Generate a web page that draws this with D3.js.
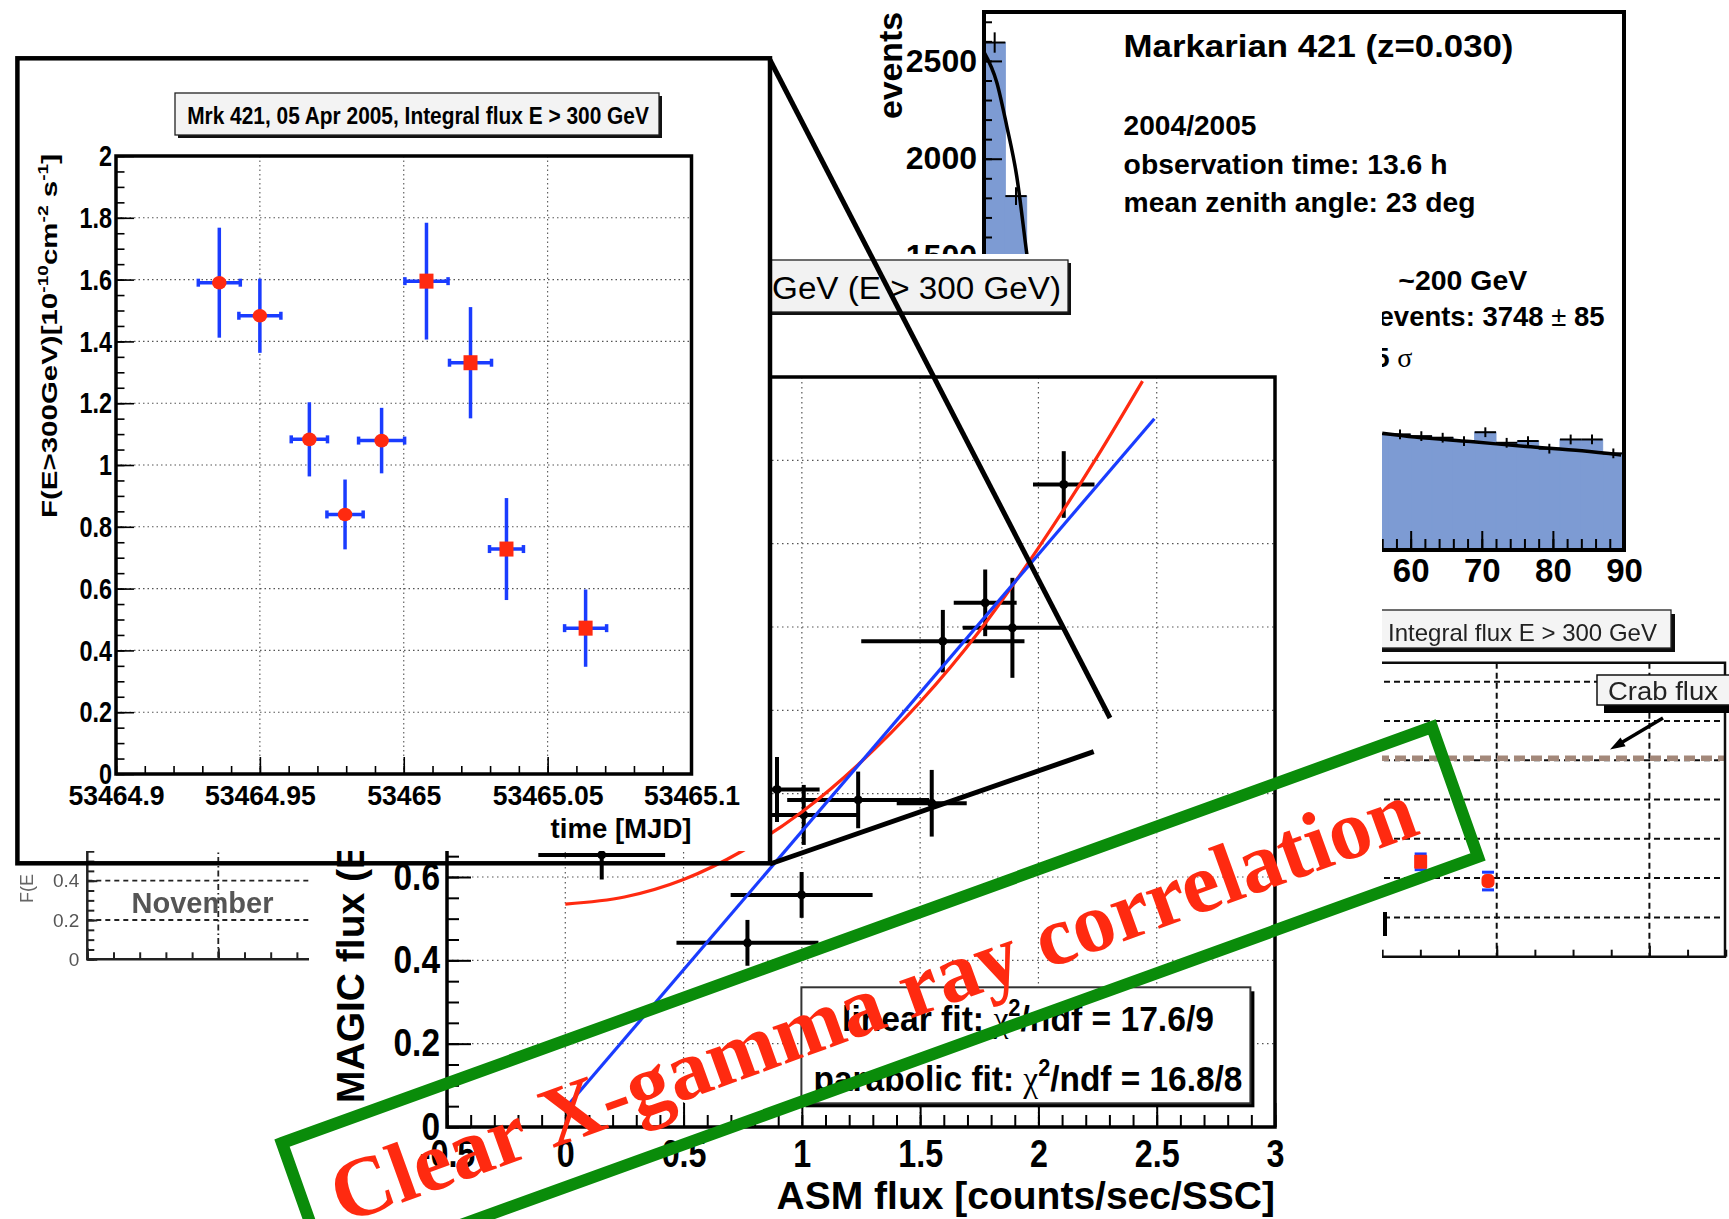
<!DOCTYPE html>
<html>
<head>
<meta charset="utf-8">
<title>Mrk 421 – MAGIC / ASM flux correlation</title>
<script src="https://cdn.jsdelivr.net/npm/d3@7/dist/d3.min.js"></script>
<style>
  html, body { margin: 0; padding: 0; background: #fff; }
  svg { display: block; }
</style>
</head>
<body>
<svg id="chart" width="1729" height="1219"></svg>
<script>
// ---------- Light curve, 05 Apr 2005 (MJD vs integral flux E > 300 GeV, 1e-10 cm^-2 s^-1)
const lcTime    = [53464.9359, 53464.9500, 53464.9672, 53464.9796, 53464.9923, 53465.0079, 53465.0232, 53465.0357, 53465.0632];
const lcTimeErr = [0.0073, 0.0073, 0.0063, 0.0063, 0.0080, 0.0075, 0.0073, 0.0059, 0.0073];
const lcFlux    = [1.590, 1.483, 1.083, 0.840, 1.079, 1.595, 1.331, 0.728, 0.472];
const lcFluxErr = [0.178, 0.120, 0.120, 0.113, 0.106, 0.189, 0.180, 0.165, 0.125];
const lcMarker  = ["circle", "circle", "circle", "circle", "circle", "square", "square", "square", "square"];
const lcXTicks  = [53464.9, 53464.95, 53465, 53465.05, 53465.1];
const lcXLabels = ["53464.9", "53464.95", "53465", "53465.05", "53465.1"];
const lcYTicks  = [0, 0.2, 0.4, 0.6, 0.8, 1, 1.2, 1.4, 1.6, 1.8, 2];
const lcYLabels = ["0", "0.2", "0.4", "0.6", "0.8", "1", "1.2", "1.4", "1.6", "1.8", "2"];

// ---------- MAGIC flux vs ASM flux
const asmFlux   = [2.107, 1.775, 1.890, 1.596, 1.549, 1.238, 0.895, 1.008, 0.154, 0.999, 0.770];
const asmErr    = [0.130, 0.133, 0.210, 0.345, 0.148, 0.300, 0.180, 0.235, 0.268, 0.300, 0.300];
const magicFlux = [1.542, 1.258, 1.198, 1.166, 0.777, 0.785, 0.810, 0.749, 0.653, 0.557, 0.442];
const magicErr  = [0.080, 0.080, 0.120, 0.075, 0.080, 0.068, 0.078, 0.072, 0.059, 0.055, 0.055];
const linearFit    = [[0.0, 0.045], [2.49, 1.70]];
const parabolicFit = [[0, 0.535], [0.25, 0.552], [0.5, 0.594], [0.75, 0.663], [1.0, 0.756], [1.25, 0.876],
                      [1.5, 1.02], [1.75, 1.19], [2.0, 1.39], [2.25, 1.61], [2.44, 1.79]];
const fitNames  = ["linear fit: ", "parabolic fit: "];
const fitChi2   = ["17.6/9", "16.8/8"];
const corrXTicks  = [-0.5, 0, 0.5, 1, 1.5, 2, 2.5, 3];
const corrXLabels = ["-0.5", "0", "0.5", "1", "1.5", "2", "2.5", "3"];
// upper labels of this axis sit beneath the light-curve inset
const corrYTicks  = [0, 0.2, 0.4, 0.6, 0.8, 1, 1.2, 1.4, 1.6, 1.8];
const corrYLabels = ["0", "0.2", "0.4", "0.6", "", "", "", "", "", ""];

// ---------- ALPHA distribution, Markarian 421 2004/2005
const alphaBinStart = [0, 3, 54, 57, 60, 63, 66, 69, 72, 75, 78, 81, 84, 87];
const alphaCounts   = [2594, 1809, 592, 591, 582, 574, 557, 602, 548, 557, 518, 565, 565, 494];
const alphaErr      = [52, 45, 25, 25, 25, 25, 25, 25, 25, 25, 25, 25, 25, 25];
const alphaFitPeak  = [[0, 2545], [1.8, 2390], [3.2, 2167], [4.6, 1911], [6.0, 1519], [6.8, 1300]];
const alphaFitTail  = [[56, 597], [60.6, 577], [68.4, 554], [76.3, 529], [84.1, 507], [89.6, 486]];
const alphaXTicks   = [0, 10, 20, 30, 40, 50, 60, 70, 80, 90];
const alphaXLabels  = ["0", "10", "20", "30", "40", "50", "60", "70", "80", "90"];
const alphaYTicks   = [0, 500, 1000, 1500, 2000, 2500];
const alphaYLabels  = ["0", "500", "1000", "1500", "2000", "2500"];

// ---------- Integral flux panel with Crab reference
const crabX      = [0.502, 0.943];
const crabY      = [0.483, 0.385];
const crabYErr   = [0.040, 0.045];
const crabMarker = ["square", "circle"];
const crabLevel  = 1.01;
const crabGridY  = [0.2, 0.4, 0.6, 0.8, 1.0, 1.2, 1.4];
const crabGridX  = [1, 2];

// ---------- November panel
const novYTicks  = [0, 0.2, 0.4];
const novYLabels = ["0", "0.2", "0.4"];

const FONT  = "'Liberation Sans', Arial, Helvetica, sans-serif";
const SERIF = "'Liberation Serif', 'Times New Roman', serif";
const BLUE = "#1a3cff", RED = "#ff2a10";

const svg = d3.select("#chart");
svg.append("rect").attr("width", 1729).attr("height", 1219).attr("fill", "#fff");
svg.append("defs").append("filter").attr("id", "soft")
  .attr("x", "-5%").attr("y", "-5%").attr("width", "110%").attr("height", "110%")
  .append("feGaussianBlur").attr("stdDeviation", 0.6);

// text with optional rotation, superscripts and a target length
function label(parent, o) {
  const g = parent.append("g").attr("transform", `translate(${o.x},${o.y}) rotate(${o.rot || 0})`);
  const inner = g.append("g");
  const t = inner.append("text")
    .attr("text-anchor", o.anchor || "start")
    .attr("font-family", o.family || FONT)
    .attr("font-size", o.size)
    .attr("font-weight", o.weight || "normal")
    .attr("fill", o.fill || "#000");
  const parts = o.parts || [{ t: o.text }];
  let shift = 0;
  parts.forEach(p => {
    const target = p.sup ? -o.size * 0.42 : 0;
    const ts = t.append("tspan").text(p.t).attr("dy", target - shift);
    shift = target;
    if (p.sup) ts.attr("font-size", o.size * 0.65);
    if (p.family) ts.attr("font-family", p.family);
    if (p.weight) ts.attr("font-weight", p.weight);
  });
  if (o.width) {
    const w = t.node().getComputedTextLength();
    if (w > 0) inner.attr("transform", `scale(${o.width / w},1)`);
  }
  return t;
}

// ROOT-style axis: inward major/minor ticks, labels outside
function rootAxis(parent, scale, orient, pos, major, labels, minor, opt) {
  const make = orient === "bottom" ? d3.axisBottom : d3.axisLeft;
  const tr = orient === "bottom" ? `translate(0,${pos})` : `translate(${pos},0)`;
  const gMin = parent.append("g").attr("transform", tr)
    .call(make(scale).tickValues(minor).tickSizeInner(-opt.minorLen).tickSizeOuter(0).tickFormat(() => ""));
  gMin.select(".domain").remove();
  gMin.selectAll("text").remove();
  gMin.selectAll("line").attr("stroke-width", opt.tickWidth).attr("stroke", opt.color || "#000");
  const gMaj = parent.append("g").attr("transform", tr)
    .call(make(scale).tickValues(major).tickSizeInner(-opt.majorLen).tickSizeOuter(0)
      .tickPadding(opt.pad).tickFormat((d, i) => labels[i]));
  gMaj.select(".domain").remove();
  gMaj.selectAll("text").filter(function () { return this.textContent === ""; }).remove();
  gMaj.selectAll("line").attr("stroke-width", opt.tickWidth).attr("stroke", opt.color || "#000");
  gMaj.attr("font-family", FONT).attr("font-size", opt.size).attr("font-weight", opt.weight || "bold");
  gMaj.selectAll("text").attr("fill", opt.fill || "#000");
  if (opt.squeeze && opt.squeeze !== 1) {
    gMaj.selectAll("text").each(function () {
      const w = this.getComputedTextLength();
      d3.select(this).attr("textLength", w * opt.squeeze).attr("lengthAdjust", "spacingAndGlyphs");
    });
  }
  return gMaj;
}

function gridLines(parent, xVals, yVals, xs, ys, style) {
  const g = parent.append("g").attr("stroke", style.color).attr("stroke-width", style.width)
    .attr("stroke-dasharray", style.dash).attr("fill", "none");
  g.selectAll(".gv").data(xVals).join("line")
    .attr("x1", d => xs(d)).attr("x2", d => xs(d)).attr("y1", style.y0).attr("y2", style.y1);
  g.selectAll(".gh").data(yVals).join("line")
    .attr("x1", style.x0).attr("x2", style.x1).attr("y1", d => ys(d)).attr("y2", d => ys(d));
  return g;
}

function titleBox(parent, x, y, w, h, sh, fill) {
  parent.append("rect").attr("x", x + sh).attr("y", y + sh).attr("width", w).attr("height", h).attr("fill", "#111");
  parent.append("rect").attr("x", x).attr("y", y).attr("width", w).attr("height", h)
    .attr("fill", fill).attr("stroke", "#222").attr("stroke-width", 1.3);
}

// ================= ALPHA histogram =================
const hist = svg.append("g");
const hx = d3.scaleLinear().domain([0, 90]).range([984, 1624]);
const hy = d3.scaleLinear().domain([0, 2750]).range([550, 12]);
const bins = alphaBinStart.map((a, i) => ({ a, c: alphaCounts[i], e: alphaErr[i] }));
hist.selectAll(".bin").data(bins).join("rect")
  .attr("x", d => hx(d.a)).attr("width", d => hx(d.a + 3) - hx(d.a))
  .attr("y", d => hy(d.c)).attr("height", d => hy(0) - hy(d.c))
  .attr("fill", "#7d9bd3").attr("stroke", "#7d9bd3").attr("stroke-width", 1);
const crosses = hist.append("g").attr("stroke", "#000").attr("stroke-width", 2);
crosses.selectAll(".h").data(bins).join("line")
  .attr("x1", d => hx(d.a)).attr("x2", d => hx(d.a + 3)).attr("y1", d => hy(d.c)).attr("y2", d => hy(d.c));
crosses.selectAll(".v").data(bins).join("line")
  .attr("x1", d => hx(d.a + 1.5)).attr("x2", d => hx(d.a + 1.5))
  .attr("y1", d => hy(d.c + d.e)).attr("y2", d => hy(d.c - d.e));
const hLine = d3.line().x(d => hx(d[0])).y(d => hy(d[1])).curve(d3.curveMonotoneX);
hist.append("path").attr("d", hLine(alphaFitPeak)).attr("fill", "none").attr("stroke", "#000").attr("stroke-width", 3.5);
hist.append("path").attr("d", hLine(alphaFitTail)).attr("fill", "none").attr("stroke", "#000").attr("stroke-width", 3.5);
rootAxis(hist, hy, "left", 984, alphaYTicks, alphaYLabels, d3.range(0, 2701, 100),
  { majorLen: 18, minorLen: 8, tickWidth: 2, pad: 7, size: 32 });
rootAxis(hist, hx, "bottom", 550, alphaXTicks, alphaXLabels, d3.range(0, 91, 2),
  { majorLen: 19, minorLen: 11, tickWidth: 2, pad: 9, size: 33 });
hist.append("path").attr("d", "M984,12 H1624 V550 H984 Z").attr("fill", "none").attr("stroke", "#000").attr("stroke-width", 4);
label(hist, { x: 902, y: 12, rot: -90, anchor: "end", size: 33, weight: "bold", text: "events", width: 107 });
label(hist, { x: 1123.6, y: 57.3, size: 31, weight: "bold", text: "Markarian 421 (z=0.030)", width: 390 });
label(hist, { x: 1123.6, y: 134.5, size: 28, weight: "bold", text: "2004/2005", width: 133 });
label(hist, { x: 1123.6, y: 174, size: 28, weight: "bold", text: "observation time: 13.6 h", width: 324 });
label(hist, { x: 1123.6, y: 212, size: 28, weight: "bold", text: "mean zenith angle: 23 deg", width: 352 });
label(hist, { x: 1398.3, y: 289.5, size: 28, weight: "bold", text: "~200 GeV", width: 129 });
label(hist, { x: 1604.5, y: 326, anchor: "end", size: 28, weight: "bold",
  parts: [{ t: "events: 3748 " }, { t: "±", weight: "normal" }, { t: " 85" }], width: 226 });
label(hist, { x: 1374, y: 366.7, size: 28, weight: "bold",
  parts: [{ t: "5 " }, { t: "σ", family: SERIF, weight: "normal" }] });

// ================= November panel =================
const nov = svg.append("g").attr("filter", "url(#soft)");
const nx = d3.scaleLinear().domain([0, 1]).range([87.3, 218.3]);
const ny = d3.scaleLinear().domain([0, 0.6]).range([959.3, 841.4]);
gridLines(nov, [], [0.2, 0.4, 0.6], nx, ny, { color: "#222", width: 1.8, dash: "5,4", x0: 87.3, x1: 340 });
nov.append("line").attr("x1", nx(1)).attr("x2", nx(1)).attr("y1", 830).attr("y2", 959)
  .attr("stroke", "#222").attr("stroke-width", 1.8).attr("stroke-dasharray", "6,3,1.5,3");
rootAxis(nov, ny, "left", 87.3, novYTicks, novYLabels, d3.range(0, 0.71, 0.05),
  { majorLen: 10, minorLen: 7, tickWidth: 2, pad: 8, size: 19, weight: "normal", fill: "#555", color: "#222" });
rootAxis(nov, nx, "bottom", 959.3, [0, 1, 2], ["", "", ""], d3.range(0, 2.01, 0.2),
  { majorLen: 11, minorLen: 7, tickWidth: 2, pad: 8, size: 19, color: "#222" });
nov.append("path").attr("d", "M87.3,830 V959.3 H340").attr("fill", "none").attr("stroke", "#222").attr("stroke-width", 2.5);
label(nov, { x: 33, y: 903, rot: -90, size: 18, fill: "#666", text: "F(E" });
label(nov, { x: 202.5, y: 913, anchor: "middle", size: 30, weight: "bold", fill: "#555", text: "November", width: 142 });

// ================= Integral flux panel with Crab level =================
const crab = svg.append("g").attr("filter", "url(#soft)");
const cx = d3.scaleLinear().domain([0, 2.5]).range([1344, 1725.75]);
const cy = d3.scaleLinear().domain([0, 1.5]).range([956.7, 662]);
crab.append("rect").attr("x", 1300).attr("y", 600).attr("width", 429).attr("height", 360).attr("fill", "#fff");
gridLines(crab, crabGridX, crabGridY, cx, cy, { color: "#111", width: 2, dash: "6,4", x0: 1344, x1: 1725, y0: 662.7, y1: 956.7 });
crab.append("line").attr("x1", 1344).attr("x2", 1725).attr("y1", cy(crabLevel)).attr("y2", cy(crabLevel))
  .attr("stroke", "#a3887a").attr("stroke-width", 5.5).attr("stroke-dasharray", "11,6");
rootAxis(crab, cx, "bottom", 956.7, [0, 1, 2], ["", "", ""], d3.range(0, 2.51, 0.25),
  { majorLen: 11, minorLen: 7, tickWidth: 2, pad: 8, size: 20, color: "#111" });
crab.append("path").attr("d", "M1344,662.7 H1725 V956.7 H1344").attr("fill", "none").attr("stroke", "#111").attr("stroke-width", 2.5);
crab.append("line").attr("x1", 1385).attr("x2", 1385).attr("y1", 912).attr("y2", 936).attr("stroke", "#000").attr("stroke-width", 4);
const cpts = crabX.map((x, i) => ({ x, y: crabY[i], e: crabYErr[i], m: crabMarker[i] }));
const cb = crab.append("g").attr("stroke", BLUE).attr("stroke-width", 3);
cpts.forEach(d => {
  [d.y + d.e, d.y - d.e].forEach(v => cb.append("line")
    .attr("x1", cx(d.x) - 6).attr("x2", cx(d.x) + 6).attr("y1", cy(v)).attr("y2", cy(v)));
});
crab.selectAll(".cm").data(cpts).join("rect")
  .attr("x", d => cx(d.x) - 6.5).attr("y", d => cy(d.y) - 7).attr("width", 13).attr("height", 14)
  .attr("rx", d => d.m === "circle" ? 5 : 1).attr("fill", RED);
titleBox(crab, 1340, 610, 331, 38, 4, "#f4f4f4");
label(crab, { x: 1388, y: 641, size: 24, fill: "#222", text: "Integral flux E > 300 GeV", width: 269 });
crab.append("rect").attr("x", 1604).attr("y", 684).attr("width", 140).attr("height", 29).attr("fill", "#000");
crab.append("rect").attr("x", 1597).attr("y", 675).attr("width", 140).attr("height", 30)
  .attr("fill", "#f4f4f4").attr("stroke", "#111").attr("stroke-width", 1.5);
label(crab, { x: 1608, y: 700, size: 26, fill: "#222", text: "Crab flux", width: 110 });
crab.append("line").attr("x1", 1663).attr("y1", 718).attr("x2", 1620).attr("y2", 743.5)
  .attr("stroke", "#000").attr("stroke-width", 3.5);
crab.append("polygon").attr("points", "1610,749.5 1625.6,746.2 1620.5,737.6").attr("fill", "#000");

// ================= MAGIC vs ASM correlation =================
const main = svg.append("g");
main.append("rect").attr("x", 309).attr("y", 254).attr("width", 1073).attr("height", 965).attr("fill", "#fff");
const mx = d3.scaleLinear().domain([-0.5, 3]).range([447, 1275]);
const my = d3.scaleLinear().domain([0, 1.8]).range([1127, 377]);
titleBox(main, 560, 260, 508, 52, 3, "#f2f2f2");
label(main, { x: 1061, y: 299, anchor: "end", size: 31, text: "GeV (E > 300 GeV)", width: 289 });
gridLines(main, [0, 0.5, 1, 1.5, 2, 2.5], [0.2, 0.4, 0.6, 0.8, 1, 1.2, 1.4, 1.6], mx, my,
  { color: "#555", width: 1.2, dash: "1.5,3.5", x0: 447, x1: 1275, y0: 377, y1: 1127 });
rootAxis(main, my, "left", 447, corrYTicks, corrYLabels, d3.range(0, 1.81, 0.05),
  { majorLen: 24, minorLen: 12, tickWidth: 2, pad: 7, size: 38, squeeze: 0.88 });
rootAxis(main, mx, "bottom", 1127, corrXTicks, corrXLabels, d3.range(-0.5, 3.01, 0.1),
  { majorLen: 24, minorLen: 12, tickWidth: 2, pad: 13, size: 38, squeeze: 0.85 });
main.append("rect").attr("x", 447).attr("y", 377).attr("width", 828).attr("height", 750)
  .attr("fill", "none").attr("stroke", "#000").attr("stroke-width", 3.5);
label(main, { x: 1275, y: 1209, anchor: "end", size: 39, weight: "bold", text: "ASM flux [counts/sec/SSC]" });
label(main, { x: 364, y: 1103, rot: -90, size: 39, weight: "bold", text: "MAGIC flux (E>300 GeV)" });

const pts = asmFlux.map((x, i) => ({ x, xe: asmErr[i], y: magicFlux[i], ye: magicErr[i] }));
const pe = main.append("g").attr("stroke", "#000").attr("stroke-width", 4);
pe.selectAll(".h").data(pts).join("line")
  .attr("x1", d => mx(d.x - d.xe)).attr("x2", d => mx(d.x + d.xe)).attr("y1", d => my(d.y)).attr("y2", d => my(d.y));
pe.selectAll(".v").data(pts).join("line")
  .attr("x1", d => mx(d.x)).attr("x2", d => mx(d.x)).attr("y1", d => my(d.y + d.ye)).attr("y2", d => my(d.y - d.ye));
main.selectAll(".pm").data(pts).join("circle")
  .attr("cx", d => mx(d.x)).attr("cy", d => my(d.y)).attr("r", 4.5).attr("fill", "#000");
const mLine = d3.line().x(d => mx(d[0])).y(d => my(d[1])).curve(d3.curveMonotoneX);
main.append("path").attr("d", mLine(parabolicFit)).attr("fill", "none").attr("stroke", RED).attr("stroke-width", 3.2);
main.append("path").attr("d", mLine(linearFit)).attr("fill", "none").attr("stroke", BLUE).attr("stroke-width", 3.2);

main.append("rect").attr("x", 805.4).attr("y", 991.3).attr("width", 449).attr("height", 116).attr("fill", "#000");
main.append("rect").attr("x", 801.4).attr("y", 987.3).attr("width", 449).attr("height", 116)
  .attr("fill", "#fff").attr("stroke", "#333").attr("stroke-width", 2);
[[1031, 372], [1091, 429]].forEach(([base, w], i) => {
  label(main, { x: 1028, y: base, anchor: "middle", size: 36, weight: "bold", width: w,
    parts: [{ t: fitNames[i] }, { t: "χ", family: SERIF, weight: "normal" }, { t: "2", sup: true }, { t: "/ndf = " + fitChi2[i] }] });
});

// ================= Light curve inset =================
const inset = svg.append("g");
inset.append("rect").attr("x", 17).attr("y", 58).attr("width", 753).attr("height", 793).attr("fill", "#fff");
const ix = d3.scaleLinear().domain([53464.9, 53465.1]).range([116, 691.5]);
const iy = d3.scaleLinear().domain([0, 2]).range([774, 156]);
titleBox(inset, 175, 93, 484, 42, 3, "#f3f3f3");
label(inset, { x: 418, y: 123.5, anchor: "middle", size: 24, weight: "bold",
  text: "Mrk 421, 05 Apr 2005, Integral flux E > 300 GeV", width: 462 });
gridLines(inset, [53464.95, 53465, 53465.05], [0.2, 0.4, 0.6, 0.8, 1, 1.2, 1.4, 1.6, 1.8], ix, iy,
  { color: "#555", width: 1.1, dash: "1.5,3", x0: 116, x1: 691.5, y0: 156, y1: 774 });
rootAxis(inset, iy, "left", 116, lcYTicks, lcYLabels, d3.range(0, 2.001, 0.05),
  { majorLen: 18, minorLen: 8.5, tickWidth: 1.6, pad: 4, size: 30, squeeze: 0.78 });
rootAxis(inset, ix, "bottom", 774, lcXTicks, lcXLabels, d3.range(0, 21).map(k => 53464.9 + k * 0.01),
  { majorLen: 17, minorLen: 8, tickWidth: 1.6, pad: 11, size: 28, squeeze: 0.95 });
inset.append("rect").attr("x", 116).attr("y", 156).attr("width", 575.5).attr("height", 618)
  .attr("fill", "none").attr("stroke", "#000").attr("stroke-width", 3.5);
label(inset, { x: 691.5, y: 838, anchor: "end", size: 27.5, weight: "bold", text: "time [MJD]", width: 141 });
label(inset, { x: 57, y: 154, rot: -90, anchor: "end", size: 22, weight: "bold", width: 364,
  parts: [{ t: "F(E>300GeV)[10" }, { t: "-10", sup: true }, { t: "cm" }, { t: "-2", sup: true },
          { t: " s" }, { t: "-1", sup: true }, { t: "]" }] });

const lc = lcTime.map((t, i) => ({ t, te: lcTimeErr[i], f: lcFlux[i], fe: lcFluxErr[i], m: lcMarker[i] }));
const le = inset.append("g").attr("stroke", BLUE).attr("stroke-width", 3.5);
le.selectAll(".h").data(lc).join("line")
  .attr("x1", d => ix(d.t - d.te)).attr("x2", d => ix(d.t + d.te)).attr("y1", d => iy(d.f)).attr("y2", d => iy(d.f));
le.selectAll(".v").data(lc).join("line")
  .attr("x1", d => ix(d.t)).attr("x2", d => ix(d.t)).attr("y1", d => iy(d.f + d.fe)).attr("y2", d => iy(d.f - d.fe));
le.selectAll(".cl").data(lc).join("line")
  .attr("x1", d => ix(d.t - d.te)).attr("x2", d => ix(d.t - d.te)).attr("y1", d => iy(d.f) - 4).attr("y2", d => iy(d.f) + 4);
le.selectAll(".cr").data(lc).join("line")
  .attr("x1", d => ix(d.t + d.te)).attr("x2", d => ix(d.t + d.te)).attr("y1", d => iy(d.f) - 4).attr("y2", d => iy(d.f) + 4);
inset.selectAll(".lcc").data(lc.filter(d => d.m === "circle")).join("ellipse")
  .attr("cx", d => ix(d.t)).attr("cy", d => iy(d.f)).attr("rx", 7.3).attr("ry", 6.8).attr("fill", RED);
inset.selectAll(".lcs").data(lc.filter(d => d.m === "square")).join("rect")
  .attr("x", d => ix(d.t) - 7).attr("y", d => iy(d.f) - 7.5).attr("width", 14).attr("height", 15).attr("fill", RED);
inset.append("rect").attr("x", 17.4).attr("y", 58.3).attr("width", 752.6).attr("height", 805)
  .attr("fill", "none").attr("stroke", "#000").attr("stroke-width", 4.5);

// zoom guide lines from the inset corners
const guides = svg.append("g").attr("stroke", "#000").attr("stroke-width", 5);
guides.append("line").attr("x1", 770).attr("y1", 60).attr("x2", 1110).attr("y2", 718);
guides.append("line").attr("x1", 770).attr("y1", 864).attr("x2", 1093.7).attr("y2", 751.7);

// ================= banner =================
const banner = svg.append("g");
banner.append("polygon").attr("points", "282,1143 1432,727 1478,857 328,1273")
  .attr("fill", "none").attr("stroke", "#0a8c0a").attr("stroke-width", 12).attr("stroke-linejoin", "miter");
label(banner, { x: 342.7, y: 1224.1, rot: -19.9, size: 85, weight: "bold", family: SERIF, fill: RED,
  text: "Clear X-gamma ray correlation", width: 1148 });
</script>
</body>
</html>
